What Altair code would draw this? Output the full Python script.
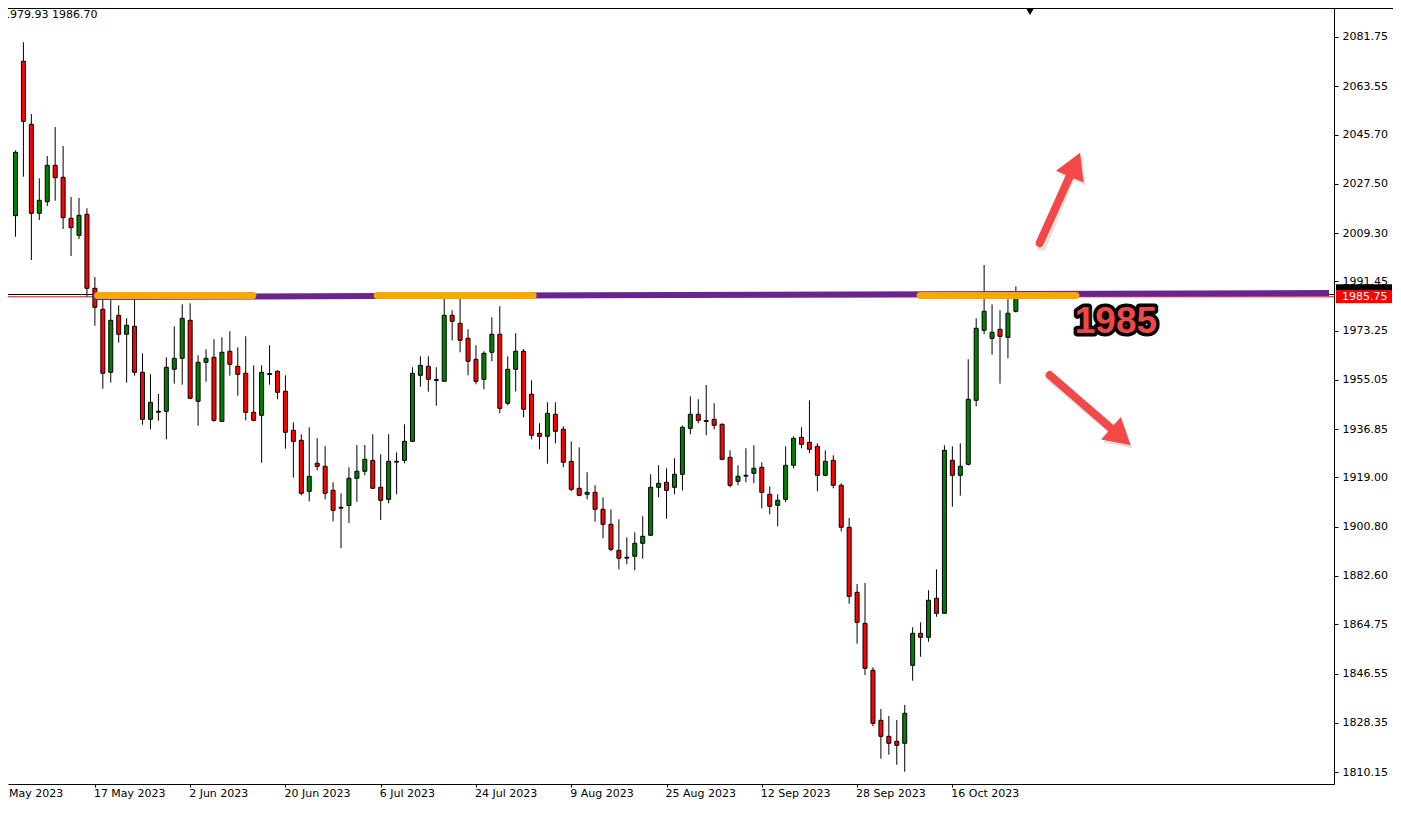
import altair as alt
import pandas as pd

# ---------------- data ----------------
opens = [2015.72, 2072.77, 2049.49, 2016.60, 2020.89, 2034.34, 2029.90, 2014.75, 2008.47, 2016.23,
         1988.89, 1981.13, 1957.85, 1978.91, 1971.89, 1974.85, 1957.85, 1940.48, 1943.45, 1943.44,
         1958.96, 1963.02, 1977.06, 1947.13, 1961.54, 1963.39, 1939.74, 1965.61, 1960.06, 1957.48,
         1943.07, 1941.96, 1957.05, 1958.22, 1950.83, 1936.42, 1932.72, 1913.87, 1924.22, 1923.11,
         1914.24, 1907.95, 1908.63, 1918.68, 1921.27, 1925.33, 1915.35, 1910.92, 1924.95, 1925.33,
         1932.35, 1956.74, 1960.06, 1955.15, 1954.52, 1978.91, 1975.95, 1970.41, 1962.65, 1955.26,
         1965.24, 1971.89, 1946.39, 1958.96, 1965.61, 1949.72, 1935.31, 1934.20, 1942.33, 1936.79,
         1924.96, 1914.98, 1912.77, 1913.50, 1907.22, 1901.68, 1892.07, 1889.48, 1889.86, 1894.66,
         1897.62, 1915.35, 1917.20, 1915.35, 1920.16, 1937.15, 1942.33, 1939.70, 1940.48, 1938.63,
         1926.44, 1917.57, 1919.78, 1920.53, 1922.74, 1912.77, 1908.70, 1910.92, 1923.48, 1933.83,
         1931.98, 1930.50, 1919.79, 1925.33, 1916.09, 1900.57, 1876.55, 1865.10, 1847.73, 1829.25,
         1823.34, 1821.49, 1820.76, 1849.58, 1861.40, 1859.93, 1874.34, 1868.79, 1925.33, 1919.79,
         1923.85, 1947.50, 1973.37, 1970.41, 1973.74, 1970.78, 1980.39]
highs = [2039.81, 2079.79, 2053.29, 2029.53, 2037.77, 2048.49, 2041.47, 2022.62, 2022.26, 2018.45,
         1993.06, 1985.50, 1985.00, 1982.61, 1977.80, 1985.00, 1964.87, 1957.11, 1949.83, 1963.39,
         1974.85, 1982.97, 1983.35, 1964.13, 1966.35, 1970.04, 1970.78, 1973.00, 1967.09, 1971.15,
         1960.43, 1960.43, 1967.82, 1958.59, 1956.74, 1939.37, 1934.94, 1937.52, 1933.46, 1930.50,
         1917.20, 1913.14, 1922.74, 1930.98, 1930.98, 1934.94, 1927.55, 1934.94, 1928.29, 1938.63,
         1959.70, 1963.76, 1963.76, 1959.70, 1985.00, 1980.76, 1987.41, 1973.74, 1967.82, 1965.61,
         1978.17, 1982.24, 1963.76, 1972.26, 1966.46, 1954.89, 1939.00, 1946.76, 1946.76, 1937.89,
         1932.35, 1930.13, 1920.90, 1916.09, 1911.66, 1907.22, 1903.53, 1896.88, 1898.72, 1904.64,
         1920.16, 1923.48, 1922.37, 1926.07, 1938.19, 1948.98, 1947.87, 1953.15, 1946.39, 1939.00,
         1929.02, 1923.48, 1929.76, 1930.87, 1924.59, 1915.72, 1912.77, 1930.50, 1934.20, 1937.52,
         1947.50, 1931.61, 1929.02, 1927.18, 1916.83, 1904.01, 1879.62, 1879.99, 1848.84, 1833.43,
         1830.84, 1829.37, 1834.91, 1863.62, 1865.47, 1877.29, 1885.05, 1930.87, 1930.50, 1931.61,
         1962.65, 1977.80, 1997.50, 1982.97, 1980.76, 1986.50, 1989.63]
lows = [2007.95, 2030.13, 1999.34, 2014.13, 2019.30, 2021.26, 2010.80, 2000.82, 2007.10, 1985.78,
        1975.07, 1951.79, 1954.01, 1968.79, 1954.01, 1956.59, 1938.48, 1936.79, 1939.96, 1933.09,
        1953.64, 1953.27, 1947.90, 1938.12, 1954.38, 1939.59, 1939.60, 1956.59, 1949.20, 1940.11,
        1939.74, 1924.44, 1953.27, 1947.87, 1929.62, 1918.90, 1912.40, 1910.18, 1921.63, 1910.92,
        1902.79, 1892.81, 1902.16, 1910.03, 1919.79, 1914.90, 1903.27, 1909.44, 1912.77, 1924.22,
        1932.20, 1952.53, 1950.68, 1945.51, 1954.40, 1969.67, 1965.24, 1956.74, 1953.41, 1951.57,
        1961.91, 1942.70, 1945.65, 1950.75, 1941.22, 1933.09, 1929.39, 1924.07, 1931.61, 1922.74,
        1913.87, 1912.03, 1910.92, 1902.64, 1896.51, 1891.70, 1885.05, 1886.90, 1884.68, 1888.97,
        1897.50, 1911.66, 1903.75, 1912.77, 1914.17, 1934.94, 1939.00, 1934.57, 1936.79, 1925.33,
        1915.35, 1916.09, 1917.20, 1916.83, 1907.59, 1905.38, 1900.94, 1909.81, 1922.37, 1929.76,
        1927.92, 1913.87, 1919.42, 1914.98, 1899.02, 1872.34, 1857.56, 1845.99, 1827.04, 1815.07,
        1816.54, 1812.85, 1810.26, 1843.89, 1852.76, 1858.30, 1867.54, 1868.60, 1908.18, 1912.25,
        1923.48, 1945.28, 1971.89, 1964.35, 1953.64, 1963.02, 1979.93]
closes = [2039.14, 2050.60, 2016.60, 2021.40, 2034.34, 2029.76, 2014.98, 2011.28, 2015.86, 1988.89,
          1981.87, 1957.48, 1977.06, 1971.89, 1975.22, 1957.85, 1940.48, 1946.76, 1943.10, 1959.69,
          1963.02, 1977.80, 1948.24, 1961.54, 1963.02, 1940.11, 1965.24, 1960.80, 1957.11, 1943.07,
          1940.11, 1957.85, 1957.40, 1950.46, 1935.68, 1932.35, 1913.14, 1919.42, 1923.11, 1913.14,
          1906.85, 1907.65, 1918.68, 1921.27, 1925.70, 1914.98, 1910.55, 1924.96, 1924.65, 1932.35,
          1957.48, 1960.43, 1955.26, 1954.85, 1978.91, 1976.69, 1969.67, 1961.91, 1954.52, 1964.87,
          1971.89, 1944.54, 1958.96, 1965.61, 1944.18, 1934.57, 1934.20, 1942.70, 1936.05, 1924.59,
          1914.61, 1912.40, 1913.50, 1907.22, 1901.68, 1892.44, 1889.12, 1889.18, 1894.66, 1897.25,
          1915.35, 1916.83, 1914.24, 1920.16, 1937.52, 1942.33, 1940.11, 1940.00, 1938.26, 1925.70,
          1916.09, 1919.42, 1919.48, 1922.37, 1913.50, 1908.33, 1910.55, 1923.48, 1933.46, 1931.24,
          1929.39, 1919.79, 1924.96, 1916.09, 1900.57, 1875.07, 1865.47, 1848.47, 1828.15, 1823.34,
          1820.76, 1820.02, 1831.84, 1861.40, 1859.93, 1873.60, 1868.79, 1929.02, 1919.79, 1923.11,
          1947.87, 1974.11, 1980.39, 1972.63, 1971.15, 1979.65, 1986.70]

dates = pd.bdate_range("2023-05-03", periods=len(opens))

label_idx = [-2, 10, 22, 34, 46, 58, 70, 82, 94, 106, 118]
label_txt = ["1 May 2023", "17 May 2023", "2 Jun 2023", "20 Jun 2023", "6 Jul 2023",
             "24 Jul 2023", "9 Aug 2023", "25 Aug 2023", "12 Sep 2023", "28 Sep 2023",
             "16 Oct 2023"]
price_ticks = [2081.75, 2063.55, 2045.70, 2027.50, 2009.30, 1991.45, 1973.25, 1955.05,
               1936.85, 1919.00, 1900.80, 1882.60, 1864.75, 1846.55, 1828.35, 1810.15]

bid_price = 1985.75
black_line_price = 1986.6
header_text = "1979.93 1986.70"

trend_i = [9.75, 165.44]
trend_p = [1985.7, 1987.15]

zone_start = [10.35, 45.56, 113.94]
zone_end = [29.9, 65.19, 133.56]
zone_price = 1986.2

arrow_tail_i = [129.0, 130.25]
arrow_tail_p = [2005.63, 1956.85]
arrow_head_i = [133.44, 139.21]
arrow_head_p = [2034.54, 1934.03]
arrow_angle = [23.3, 131.0]

level_text = "1985"
level_i = 138.6
level_p = 1976.25

# ---------------- layout ----------------
W, H = 1326, 776
x_scale = alt.Scale(domain=[-0.3125, 165.4375], nice=False, zero=False)
y_scale = alt.Scale(domain=[1805.72, 2092.46], nice=False, zero=False)

df = pd.DataFrame({
    "i": list(range(len(opens))),
    "date": dates.strftime("%Y-%m-%d"),
    "open": opens, "high": highs, "low": lows, "close": closes,
})

x_axis = alt.Axis(values=label_idx, labels=False, grid=False, title=None,
                  tickSize=3, domainColor="black", tickColor="black")
y_axis = alt.Axis(values=price_ticks, format=".2f", orient="right", labelFlush=False,
                  labelOverlap=False, grid=False, title=None, tickSize=4, labelPadding=4,
                  domainColor="black", tickColor="black", labelColor="black",
                  labelFont="DejaVu Sans", labelFontSize=11, labelBaseline="middle")

base = alt.Chart(df)

wicks = base.mark_rule(color="black", strokeWidth=1).encode(
    x=alt.X("i:Q", scale=x_scale, axis=x_axis),
    y=alt.Y("low:Q", scale=y_scale, axis=y_axis),
    y2="high:Q",
)
bodies = base.mark_bar(size=4, stroke="black", strokeWidth=1).encode(
    x=alt.X("i:Q", scale=x_scale),
    y=alt.Y("open:Q", scale=y_scale),
    y2="close:Q",
    fill=alt.condition("datum.close >= datum.open", alt.value("#008000"), alt.value("#ff0000")),
)

date_labels = alt.Chart(pd.DataFrame({"i": label_idx, "t": label_txt})).mark_text(
    align="left", baseline="middle", dx=-1, font="DejaVu Sans", fontSize=11, color="black").encode(
    x=alt.X("i:Q", scale=x_scale), y=alt.value(H + 10), text="t:N")

hlines = alt.Chart(pd.DataFrame({"p": [black_line_price, bid_price], "c": ["black", "red"]})).mark_rule(
    strokeWidth=1).encode(
    y=alt.Y("p:Q", scale=y_scale),
    x=alt.value(0), x2=alt.value(W),
    color=alt.Color("c:N", scale=None),
)

trend = alt.Chart(pd.DataFrame({"i": [trend_i[0]], "i2": [trend_i[1]],
                                "p": [trend_p[0]], "p2": [trend_p[1]]})).mark_rule(
    color="#68248f", strokeWidth=6).encode(
    x=alt.X("i:Q", scale=x_scale), x2="i2:Q",
    y=alt.Y("p:Q", scale=y_scale), y2="p2:Q",
)

zones = alt.Chart(pd.DataFrame({"s": zone_start, "e": zone_end,
                                "p": [zone_price] * len(zone_start)})).mark_rule(
    color="#f5a800", strokeWidth=7, strokeCap="round").encode(
    x=alt.X("s:Q", scale=x_scale), x2="e:Q",
    y=alt.Y("p:Q", scale=y_scale),
)

arrows_df = pd.DataFrame({"ti": arrow_tail_i, "tp": arrow_tail_p,
                          "hi": arrow_head_i, "hp": arrow_head_p, "a": arrow_angle})
arrow_red = "#f24848"
shaft_shadow = alt.Chart(arrows_df).mark_rule(color="#888888", opacity=0.25, strokeWidth=10,
                                              strokeCap="round", xOffset=2, yOffset=3).encode(
    x=alt.X("ti:Q", scale=x_scale), x2="hi:Q",
    y=alt.Y("tp:Q", scale=y_scale), y2="hp:Q",
)
head_shadow = alt.Chart(arrows_df).mark_point(shape="triangle-up", filled=True, size=900,
                                              color="#888888", opacity=0.25, xOffset=2,
                                              yOffset=3).encode(
    x=alt.X("hi:Q", scale=x_scale), y=alt.Y("hp:Q", scale=y_scale),
    angle=alt.Angle("a:Q", scale=None),
)
shafts = alt.Chart(arrows_df).mark_rule(color=arrow_red, strokeWidth=8, strokeCap="round").encode(
    x=alt.X("ti:Q", scale=x_scale), x2="hi:Q",
    y=alt.Y("tp:Q", scale=y_scale), y2="hp:Q",
)
heads = alt.Chart(arrows_df).mark_point(shape="triangle-up", filled=True, size=900,
                                        color=arrow_red, opacity=1).encode(
    x=alt.X("hi:Q", scale=x_scale), y=alt.Y("hp:Q", scale=y_scale),
    angle=alt.Angle("a:Q", scale=None),
)

lvl_df = pd.DataFrame({"i": [level_i], "p": [level_p], "t": [level_text]})
lvl_outline = alt.Chart(lvl_df).mark_text(font="Liberation Sans", fontWeight="bold", fontSize=37,
                                          color="black", stroke="black", strokeWidth=7,
                                          strokeJoin="round", baseline="middle",
                                          align="center").encode(
    x=alt.X("i:Q", scale=x_scale), y=alt.Y("p:Q", scale=y_scale), text="t:N")
lvl_fill = alt.Chart(lvl_df).mark_text(font="Liberation Sans", fontWeight="bold", fontSize=37,
                                       color="#f04848", baseline="middle",
                                       align="center").encode(
    x=alt.X("i:Q", scale=x_scale), y=alt.Y("p:Q", scale=y_scale), text="t:N")

header = alt.Chart(pd.DataFrame({"t": [header_text]})).mark_text(
    align="left", baseline="middle", font="DejaVu Sans", fontSize=11, color="black").encode(
    x=alt.value(-5), y=alt.value(7), text="t:N")

top_border = alt.Chart(pd.DataFrame({"a": [0]})).mark_rule(color="black", strokeWidth=1).encode(
    x=alt.value(0), x2=alt.value(W + 59), y=alt.value(0.5))

shift_marker = alt.Chart(pd.DataFrame({"a": [0]})).mark_point(
    shape="triangle-down", filled=True, color="black", size=70, opacity=1).encode(
    x=alt.value(1022), y=alt.value(3.5))

box_df = pd.DataFrame({"p1": [1990.4, 1988.26], "p2": [1986.0, 1983.34], "c": ["black", "red"]})
price_boxes = alt.Chart(box_df).mark_rect().encode(
    x=alt.value(W + 2), x2=alt.value(W + 58),
    y=alt.Y("p1:Q", scale=y_scale), y2="p2:Q",
    color=alt.Color("c:N", scale=None),
)
price_text = alt.Chart(pd.DataFrame({"p": [bid_price], "t": [f"{bid_price:.2f}"]})).mark_text(
    align="left", baseline="middle", font="DejaVu Sans", fontSize=11, color="white").encode(
    x=alt.value(W + 8), y=alt.Y("p:Q", scale=y_scale), text="t:N")

chart = alt.layer(
    top_border, hlines, wicks, bodies, trend, zones,
    shaft_shadow, head_shadow, shafts, heads,
    lvl_outline, lvl_fill, header, shift_marker, price_boxes, price_text, date_labels,
).properties(
    width=W, height=H,
    autosize=alt.AutoSizeParams(type="none"),
    padding={"left": 0, "top": 0, "right": 59, "bottom": 18},
    background="white",
).configure_view(stroke=None)

chart.save("out.html", embed_options={"renderer": "svg", "actions": False})
